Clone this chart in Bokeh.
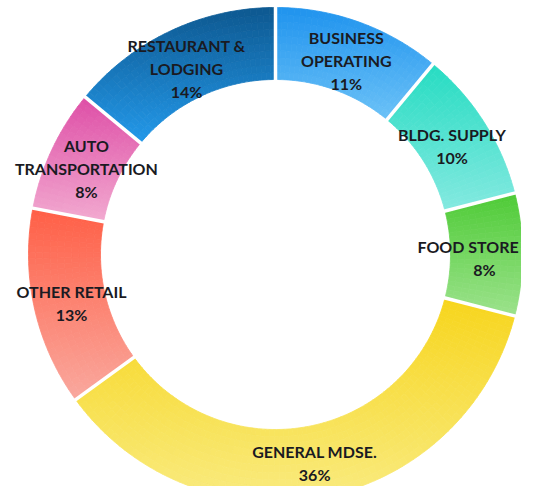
import numpy as np
from bokeh.plotting import figure
from bokeh.models import ColumnDataSource, Range1d
from bokeh.core.properties import value
from bokeh.embed import file_html
from bokeh.resources import INLINE

# ---- data ----
categories = ["BUSINESS\nOPERATING", "BLDG. SUPPLY", "FOOD STORE", "GENERAL MDSE.",
              "OTHER RETAIL", "AUTO\nTRANSPORTATION", "RESTAURANT &\nLODGING"]
shares = [11, 10, 8, 36, 13, 8, 14]
top_colors = ["#1f93ee", "#26dcc2", "#4ecb36", "#f7d51c", "#ff5f46", "#de4ea6", "#0d5890"]
bottom_colors = ["#6cc2f7", "#84e9e0", "#9ce28c", "#f9eb80", "#f9a89e", "#f2aad0", "#2399ea"]

# ---- geometry / style ----
W, H = 521, 486
CX, CY = 275, 254          # ring centre in plot pixels (from top-left)
R_IN, R_OUT = 175, 247
LABEL_R, LABEL_DROP, LINE_GAP = 209, 3, 23
FONT_PX = 16
CHAR_W = 0.63 * FONT_PX    # rough width of a bold capital


def hex2rgb(h):
    h = h.lstrip("#")
    return np.array([int(h[i:i + 2], 16) for i in (0, 2, 4)], dtype=float)


def rgb2hex(c):
    c = np.clip(np.round(c), 0, 255).astype(int)
    return "#%02x%02x%02x" % tuple(c)


x_lo, x_hi = -CX, W - CX
p = figure(width=W, height=H, output_backend="svg", toolbar_location=None,
           x_range=Range1d(x_lo, x_hi), y_range=Range1d(-(H - CY), CY),
           x_axis_location=None, y_axis_location=None, min_border=0,
           outline_line_color=None, background_fill_color="white")
p.grid.visible = False

total = float(sum(shares))
fr = np.array(shares) / total
cum = np.concatenate([[0], np.cumsum(fr)])   # clockwise from 12 o'clock

cells = dict(sa=[], ea=[], ir=[], orr=[], c=[])
N_R = 10
for k in range(len(shares)):
    t1, t2 = cum[k] * 2 * np.pi, cum[k + 1] * 2 * np.pi
    # vertical extent of segment (for the linear top-to-bottom gradient)
    th = np.linspace(t1, t2, 200)
    ys = np.concatenate([R_IN * np.cos(th), R_OUT * np.cos(th)])
    ymax, ymin = ys.max(), ys.min()
    ctop, cbot = hex2rgb(top_colors[k]), hex2rgb(bottom_colors[k])
    n_a = max(4, int(np.ceil(np.degrees(t2 - t1) / 1.5)))
    a_edges = np.linspace(t1, t2, n_a + 1)
    r_edges = np.linspace(R_IN, R_OUT, N_R + 1)
    for i in range(n_a):
        for j in range(N_R):
            am = 0.5 * (a_edges[i] + a_edges[i + 1])
            rm = 0.5 * (r_edges[j] + r_edges[j + 1])
            y = rm * np.cos(am)
            t = (ymax - y) / (ymax - ymin)
            col = rgb2hex(ctop + t * (cbot - ctop))
            cells["sa"].append(np.pi / 2 - a_edges[i + 1])
            cells["ea"].append(np.pi / 2 - a_edges[i])
            cells["ir"].append(r_edges[j])
            cells["orr"].append(r_edges[j + 1])
            cells["c"].append(col)

src = ColumnDataSource(cells)
p.annular_wedge(x=0, y=0, inner_radius="ir", outer_radius="orr",
                start_angle="sa", end_angle="ea", fill_color="c",
                line_color="c", line_width=0.8, source=src)

# white separators between slices
ba = cum[:-1] * 2 * np.pi
p.segment(x0=(R_IN - 3) * np.sin(ba), y0=(R_IN - 3) * np.cos(ba),
          x1=(R_OUT + 3) * np.sin(ba), y1=(R_OUT + 3) * np.cos(ba),
          line_color="white", line_width=3.5)

# labels
lx, ly, lt = [], [], []
for k, name in enumerate(categories):
    lines = name.split("\n") + ["%d%%" % shares[k]]
    am = 0.5 * (cum[k] + cum[k + 1]) * 2 * np.pi
    x = LABEL_R * np.sin(am)
    yc = LABEL_R * np.cos(am) - LABEL_DROP
    n = len(lines)
    for i, s in enumerate(lines):
        half = 0.5 * CHAR_W * len(s)
        xi = min(max(x, x_lo + 3 + half), x_hi - 3 - half)   # keep inside plot
        lx.append(xi)
        ly.append(yc + ((n - 1) / 2 - i) * LINE_GAP)
        lt.append(s)

p.text(x=lx, y=ly, text=lt, text_align="center", text_baseline="middle",
       text_font=value("Lato"), text_font_style="bold", text_font_size="%dpx" % FONT_PX,
       text_color="#1a1a22")

open("out.html", "w").write(file_html(p, INLINE))
